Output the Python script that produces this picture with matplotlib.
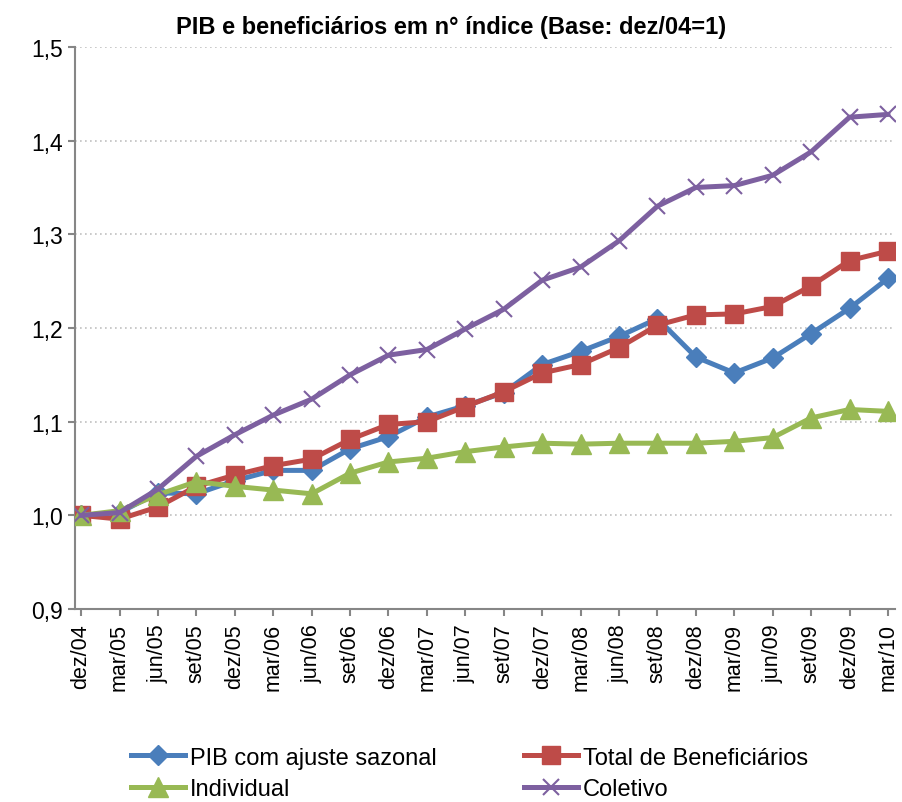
import matplotlib.pyplot as plt
from matplotlib.ticker import FuncFormatter

plt.rcParams['font.family'] = ['Liberation Sans', 'DejaVu Sans']

# trimestres
trimestres = ["dez/04", "mar/05", "jun/05", "set/05", "dez/05", "mar/06", "jun/06", "set/06",
              "dez/06", "mar/07", "jun/07", "set/07", "dez/07", "mar/08", "jun/08", "set/08",
              "dez/08", "mar/09", "jun/09", "set/09", "dez/09", "mar/10"]

# indices (base dez/04 = 1)
pib = [1.000, 1.003, 1.024, 1.023, 1.037, 1.048, 1.048, 1.071, 1.084, 1.105, 1.117,
       1.131, 1.161, 1.175, 1.191, 1.210, 1.169, 1.152, 1.168, 1.194, 1.221, 1.253]
total = [1.000, 0.996, 1.009, 1.031, 1.043, 1.053, 1.060, 1.081, 1.097, 1.100, 1.116,
         1.132, 1.152, 1.161, 1.179, 1.203, 1.214, 1.215, 1.223, 1.245, 1.272, 1.282]
individual = [1.000, 1.005, 1.022, 1.036, 1.031, 1.027, 1.023, 1.045, 1.057, 1.061, 1.068,
              1.073, 1.077, 1.076, 1.077, 1.077, 1.077, 1.079, 1.083, 1.104, 1.113, 1.111]
coletivo = [1.000, 1.003, 1.028, 1.063, 1.086, 1.107, 1.124, 1.150, 1.171, 1.177, 1.199,
            1.220, 1.251, 1.265, 1.293, 1.330, 1.350, 1.352, 1.363, 1.388, 1.425, 1.428]

x = list(range(len(trimestres)))

fig = plt.figure(figsize=(9.03, 8.03), dpi=100)
ax = fig.add_axes([0.083, 0.2403, 0.908, 0.7])

lw = 3.6
l1, = ax.plot(x, pib, color="#4A7EBB", lw=lw, marker="D", ms=10, label="PIB com ajuste sazonal", zorder=3)
l2, = ax.plot(x, total, color="#BE4B48", lw=lw, marker="s", ms=13, label="Total de Beneficiários", zorder=3)
l3, = ax.plot(x, individual, color="#98B954", lw=lw, marker="^", ms=14, label="Individual", zorder=3)
l4, = ax.plot(x, coletivo, color="#7D60A0", lw=lw, marker="x", ms=12, mew=1.5, label="Coletivo", zorder=3)

ax.set_ylim(0.9, 1.5)
ax.set_xlim(-0.16, 21.18)
ax.set_yticks([0.9, 1.0, 1.1, 1.2, 1.3, 1.4, 1.5])
ax.yaxis.set_major_formatter(FuncFormatter(lambda v, p: f"{v:.1f}".replace(".", ",")))
ax.set_xticks(x)
ax.set_xticklabels(trimestres, rotation=90)
ax.tick_params(axis="y", labelsize=16.5, color="#868686", length=5, width=1.5)
ax.tick_params(axis="x", labelsize=15.5, color="#868686", length=5, width=1.5, pad=5)

ax.grid(axis="y", linestyle=(0, (1, 2)), color="#C0C0C0", lw=1.2)
for s in ["top", "right"]:
    ax.spines[s].set_visible(False)
for s in ["left", "bottom"]:
    ax.spines[s].set_color("#868686")
    ax.spines[s].set_linewidth(1.5)

fig.text(0.5, 0.966, "PIB e beneficiários em n° índice (Base: dez/04=1)",
         ha="center", va="center", fontsize=17, fontweight="bold")

# ordem por linha: PIB, Total / Individual, Coletivo
fig.legend([l1, l3, l2, l4], [l.get_label() for l in [l1, l3, l2, l4]],
           loc="lower left", bbox_to_anchor=(0.121, -0.024), ncol=2, frameon=False,
           fontsize=17, handlelength=2.3, handletextpad=0.2, columnspacing=3.7,
           labelspacing=0.4)

fig.savefig("out.png", dpi=100)
